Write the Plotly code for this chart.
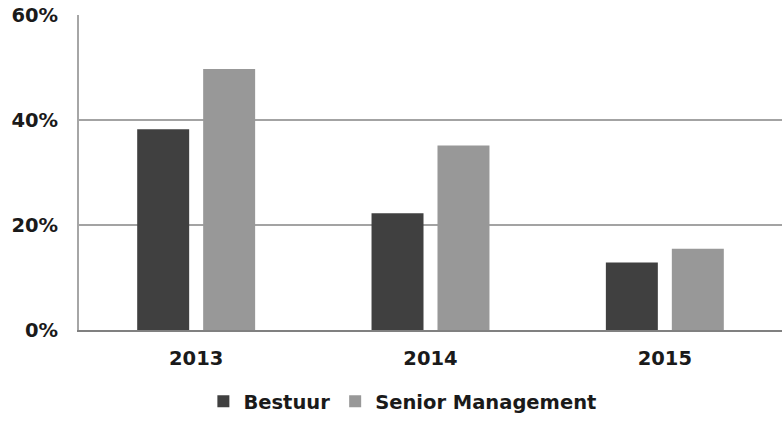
import plotly.graph_objects as go

years = ["2013", "2014", "2015"]
bestuur = [0.383, 0.223, 0.129]
senior = [0.498, 0.352, 0.155]
series_names = ["Bestuur", "Senior Management"]
y_ticks = [0, 0.2, 0.4, 0.6]
y_tick_labels = ["0%", "20%", "40%", "60%"]

font_family = "DejaVu Sans, Verdana, sans-serif"
fs = 19.5

fig = go.Figure()
fig.add_trace(go.Bar(x=years, y=bestuur, name=series_names[0],
                     marker=dict(color="#404040", line=dict(width=0))))
fig.add_trace(go.Bar(x=years, y=senior, name=series_names[1],
                     marker=dict(color="#989898", line=dict(width=0))))

fig.update_layout(
    width=782, height=421,
    margin=dict(l=79, r=0, t=15, b=91),
    paper_bgcolor="white", plot_bgcolor="white",
    barmode="group", bargap=0.437, bargroupgap=0.212,
    font=dict(family=font_family, size=fs, color="#1a1a1a"),
    showlegend=True,
    legend=dict(orientation="h", xref="paper", x=0.46, xanchor="center",
                yref="container", y=-0.012, yanchor="bottom",
                font=dict(size=fs, family=font_family, weight="bold", color="#1a1a1a"),
                itemwidth=30, tracegroupgap=0),
)
fig.update_yaxes(range=[0, 0.6012], tickvals=y_ticks, ticktext=y_tick_labels,
                 showgrid=True, gridcolor="#a3a3a3", gridwidth=2,
                 showline=True, linecolor="#a6a6a6", linewidth=2,
                 zeroline=False, ticks="", ticklabelstandoff=15, automargin=False,
                 tickfont=dict(size=fs, family=font_family, weight="bold", color="#1a1a1a"))
fig.update_xaxes(showline=True, linecolor="#808080", linewidth=2,
                 ticks="", ticklabelstandoff=10, automargin=False,
                 tickfont=dict(size=fs, family=font_family, weight="bold", color="#1a1a1a"))

fig.write_html("out.html", config={"displayModeBar": False},
               post_script="document.body.style.margin='0';document.documentElement.style.overflow='hidden';")
